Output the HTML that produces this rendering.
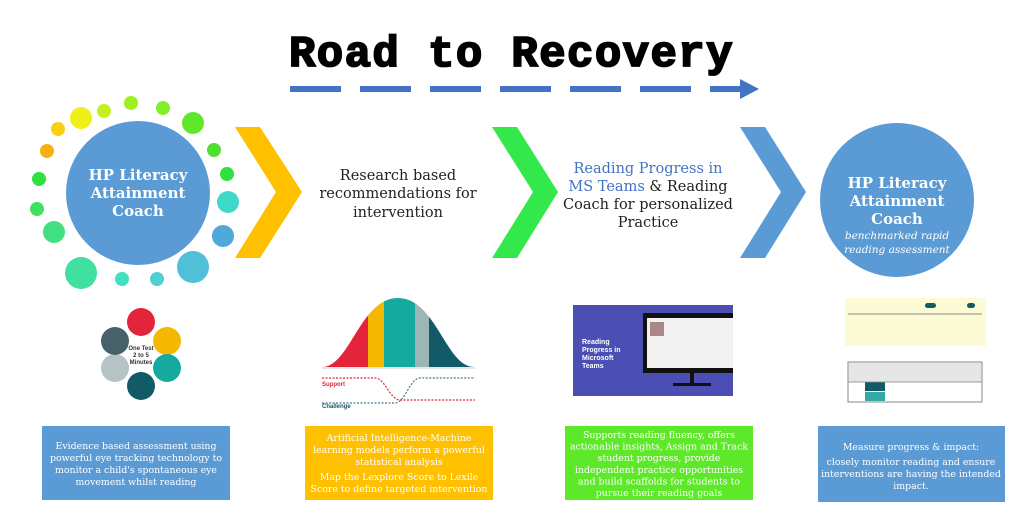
<!DOCTYPE html>
<html><head><meta charset="utf-8"><style>
html,body{margin:0;padding:0;background:#fff;}
svg{display:block;}
.s{font-family:"DejaVu Serif","Liberation Serif",serif;}
</style></head><body>
<svg width="1023" height="522" viewBox="0 0 1023 522" xmlns="http://www.w3.org/2000/svg">
<rect width="1023" height="522" fill="#fff"/>
<text x="289" y="66" font-family="Liberation Mono,monospace" font-weight="bold" font-size="44" letter-spacing="1.4" fill="#000" stroke="#000" stroke-width="1.8">Road to Recovery</text>
<g fill="#4472c4">
<rect x="290" y="86" width="51" height="6"/><rect x="360" y="86" width="51" height="6"/><rect x="430" y="86" width="51" height="6"/><rect x="500" y="86" width="51" height="6"/><rect x="570" y="86" width="51" height="6"/><rect x="640" y="86" width="51" height="6"/><rect x="710" y="86" width="32" height="6"/>
<polygon points="740,79 759,89 740,99"/>
</g>
<g>
<circle cx="81" cy="118" r="11" fill="#eef018"/><circle cx="104" cy="111" r="7" fill="#c8f020"/><circle cx="131" cy="103" r="7" fill="#a0f020"/><circle cx="163" cy="108" r="7" fill="#80f028"/><circle cx="193" cy="123" r="11" fill="#60e828"/><circle cx="214" cy="150" r="7" fill="#50e030"/><circle cx="227" cy="174" r="7" fill="#30e040"/><circle cx="228" cy="202" r="11" fill="#40d8c8"/><circle cx="223" cy="236" r="11" fill="#50a8d8"/><circle cx="193" cy="267" r="16" fill="#50c0d8"/><circle cx="157" cy="279" r="7" fill="#50d0d0"/><circle cx="122" cy="279" r="7" fill="#40e0c0"/><circle cx="81" cy="273" r="16" fill="#40e0a0"/><circle cx="54" cy="232" r="11" fill="#40e080"/><circle cx="37" cy="209" r="7" fill="#40e060"/><circle cx="39" cy="179" r="7" fill="#30e040"/><circle cx="47" cy="151" r="7" fill="#f8b010"/><circle cx="58" cy="129" r="7" fill="#f8d010"/>
</g>
<circle cx="138" cy="193" r="72" fill="#5b9bd5"/>
<g class="s" font-weight="bold" fill="#fff" font-size="15" text-anchor="middle">
<text x="138" y="180">HP Literacy</text><text x="138" y="198">Attainment</text><text x="138" y="216">Coach</text>
</g>
<polygon points="235,127 260,127 302,192 260,258 235,258 276,192" fill="#ffc000"/>
<polygon points="492,127 517,127 558,192 517,258 492,258 533,192" fill="#33e84a"/>
<polygon points="740,127 765,127 806,192 765,258 740,258 781,192" fill="#5b9bd5"/>
<g class="s" font-size="14.5" fill="#222" text-anchor="middle">
<text x="398" y="180">Research based</text><text x="398" y="198">recommendations for</text><text x="398" y="217">intervention</text>
<text x="648" y="173" fill="#4472c4">Reading Progress in</text>
<text x="648" y="191"><tspan fill="#4472c4">MS Teams</tspan> &amp; Reading</text>
<text x="648" y="209">Coach for personalized</text>
<text x="648" y="227">Practice</text>
</g>
<circle cx="897" cy="200" r="77" fill="#5b9bd5"/>
<g class="s" fill="#fff" text-anchor="middle">
<text x="897" y="188" font-size="15" font-weight="bold">HP Literacy</text>
<text x="897" y="206" font-size="15" font-weight="bold">Attainment</text>
<text x="897" y="224" font-size="15" font-weight="bold">Coach</text>
<text x="897" y="239" font-size="10.5" font-style="italic">benchmarked rapid</text>
<text x="897" y="253" font-size="10.5" font-style="italic">reading assessment</text>
</g>
<g font-family="Liberation Sans,sans-serif" font-size="4" text-anchor="middle" font-weight="bold">
<circle cx="141" cy="322" r="14" fill="#e3243b"/>
<circle cx="167" cy="341" r="14" fill="#f5b800"/>
<circle cx="167" cy="368" r="14" fill="#15aa9e"/>
<circle cx="141" cy="386" r="14" fill="#135a68"/>
<circle cx="115" cy="368" r="14" fill="#b5c3c5"/>
<circle cx="115" cy="341" r="14" fill="#45626a"/>
<text x="141" y="350" font-size="6" fill="#333">One Test</text>
<text x="141" y="357" font-size="6" fill="#333">2 to 5</text>
<text x="141" y="364" font-size="6" fill="#333">Minutes</text>
</g>
<g>
<defs><clipPath id="bc2"><path d="M322,367 C350,367 360,298 398,298 C436,298 446,367 474,367 Z"/></clipPath></defs>
<g clip-path="url(#bc2)">
<rect x="320" y="295" width="48" height="75" fill="#e3243b"/>
<rect x="368" y="295" width="16" height="75" fill="#f5b800"/>
<rect x="384" y="295" width="31" height="75" fill="#15aa9e"/>
<rect x="415" y="295" width="14" height="75" fill="#9eb5b8"/>
<rect x="429" y="295" width="46" height="75" fill="#135a68"/>
</g>
<line x1="322" y1="368" x2="475" y2="368" stroke="#ccc" stroke-width="1"/>
<path d="M322,378 L375,378 C385,378 390,400 400,400 L475,400" stroke="#e3243b" stroke-width="1.2" stroke-dasharray="2,1.5" fill="none"/>
<path d="M322,403 L395,403 C405,403 410,378 420,378 L475,378" stroke="#4a7a90" stroke-width="1.2" stroke-dasharray="2,1.5" fill="none"/>
<text x="322" y="386" font-family="Liberation Sans,sans-serif" font-size="6" font-weight="bold" fill="#e3243b">Support</text>
<text x="322" y="408" font-family="Liberation Sans,sans-serif" font-size="6" font-weight="bold" fill="#1a5566">Challenge</text>
</g>
<rect x="573" y="305" width="160" height="91" fill="#4b4fb3"/>
<rect x="643" y="313" width="90" height="60" fill="#111"/>
<rect x="647" y="318" width="86" height="50" fill="#f2f2f2"/>
<rect x="650" y="322" width="14" height="14" fill="#a88"/>
<rect x="690" y="373" width="4" height="10" fill="#111"/>
<rect x="673" y="383" width="38" height="3" fill="#111"/>
<g font-family="Liberation Sans,sans-serif" font-size="7" font-weight="bold" fill="#fff">
<text x="582" y="344">Reading</text><text x="582" y="352">Progress in</text><text x="582" y="360">Microsoft</text><text x="582" y="368">Teams</text>
</g>
<rect x="845" y="298" width="141" height="48" fill="#fdfbd6"/>
<line x1="848" y1="314" x2="982" y2="314" stroke="#888" stroke-width="1"/>
<rect x="925" y="303" width="11" height="5" rx="2.5" fill="#135a68"/>
<rect x="967" y="303" width="8" height="5" rx="2.5" fill="#135a68"/>
<rect x="848" y="362" width="134" height="40" fill="#fff" stroke="#888" stroke-width="1"/>
<rect x="865" y="382" width="20" height="9" fill="#135a68"/>
<rect x="865" y="392" width="20" height="9" fill="#35a7a5"/>
<rect x="848" y="362" width="134" height="20" fill="#e6e6e6" stroke="#888" stroke-width="0.8"/>
<rect x="42" y="426" width="188" height="74" fill="#5b9bd5"/>
<rect x="305" y="426" width="188" height="74" fill="#ffc000"/>
<rect x="565" y="426" width="188" height="74" fill="#5ee82a"/>
<rect x="818" y="426" width="187" height="76" fill="#5b9bd5"/>
<g class="s" font-size="9.4" fill="#fff" text-anchor="middle">
<text x="136" y="449">Evidence based assessment using</text>
<text x="136" y="461">powerful eye tracking technology to</text>
<text x="136" y="473">monitor a child's spontaneous eye</text>
<text x="136" y="485">movement whilst reading</text>
<text x="399" y="441">Artificial Intelligence-Machine</text>
<text x="399" y="453">learning models perform a powerful</text>
<text x="399" y="465">statistical analysis</text>
<text x="399" y="480">Map the Lexplore Score to Lexile</text>
<text x="399" y="492">Score to define targeted intervention</text>
<text x="659" y="438">Supports reading fluency, offers</text>
<text x="659" y="449.6">actionable insights, Assign and Track</text>
<text x="659" y="461.2">student progress, provide</text>
<text x="659" y="472.8">independent practice opportunities</text>
<text x="659" y="484.4">and build scaffolds for students to</text>
<text x="659" y="496">pursue their reading goals</text>
<text x="911" y="450">Measure progress &amp; impact:</text>
<text x="911" y="465">closely monitor reading and ensure</text>
<text x="911" y="477">interventions are having the intended</text>
<text x="911" y="489">impact.</text>
</g>
</svg>
</body></html>
